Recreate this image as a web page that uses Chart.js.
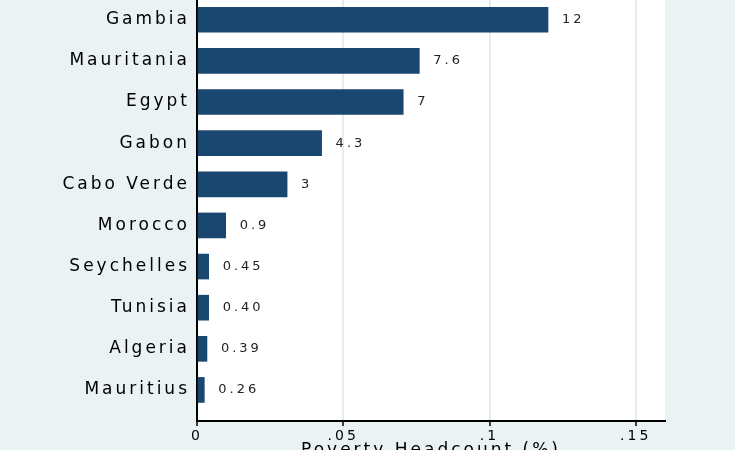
<!DOCTYPE html>
<html>
<head>
<meta charset="utf-8">
<script src="https://cdn.jsdelivr.net/npm/chart.js@4/dist/chart.umd.min.js"></script>
<style>
  html, body { margin: 0; padding: 0; background: #EAF2F3; overflow: hidden; }
  canvas { display: block; }
</style>
</head>
<body>
<canvas id="povertyChart" width="735" height="450"></canvas>
<script>
var categories = ["Gambia", "Mauritania", "Egypt", "Gabon", "Cabo Verde", "Morocco", "Seychelles", "Tunisia", "Algeria", "Mauritius"];
var headcount = [0.120, 0.076, 0.0705, 0.0426, 0.0308, 0.0098, 0.0040, 0.0040, 0.0034, 0.0025];
var valueLabels = ["12", "7.6", "7", "4.3", "3", "0.9", "0.45", "0.40", "0.39", "0.26"];
var xTicks = [0, 0.05, 0.1, 0.15];
var xTickLabels = ["0", ".05", ".1", ".15"];

var spacing = "3px";
var fontFamily = "'DejaVu Sans', sans-serif";

// stata-like wide lettering + white plot region
var stataLook = {
    id: "stataLook",
    beforeUpdate: function (chart) { chart.ctx.letterSpacing = spacing; },
    beforeLayout: function (chart) { chart.ctx.letterSpacing = spacing; },
    beforeDraw: function (chart) {
        var ctx = chart.ctx, a = chart.chartArea;
        ctx.letterSpacing = spacing;
        ctx.save();
        ctx.fillStyle = "#FFFFFF";
        ctx.fillRect(a.left, a.top, a.right - a.left, a.bottom - a.top);
        ctx.restore();
    },
    afterDatasetsDraw: function (chart) {
        var ctx = chart.ctx;
        var bars = chart.getDatasetMeta(0).data;
        ctx.save();
        ctx.font = "13px " + fontFamily;
        ctx.letterSpacing = "3px";
        ctx.fillStyle = "#222222";
        ctx.textAlign = "left";
        ctx.textBaseline = "middle";
        bars.forEach(function (bar, i) {
            ctx.fillText(valueLabels[i], bar.x + 14, bar.y);
        });
        ctx.restore();
    }
};

var ctx = document.getElementById("povertyChart").getContext("2d");

new Chart(ctx, {
    type: "bar",
    data: {
        datasets: [{
            data: headcount.map(function (v, i) { return { x: v, y: i }; }),
            backgroundColor: "#1A476F",
            borderWidth: 0,
            barThickness: 25
        }]
    },
    options: {
        indexAxis: "y",
        responsive: false,
        animation: false,
        layout: { padding: { left: 0, right: 70, top: 0, bottom: 0 } },
        plugins: {
            legend: { display: false },
            tooltip: { enabled: false }
        },
        scales: {
            x: {
                type: "linear",
                min: 0,
                max: 0.16,
                afterBuildTicks: function (scale) {
                    scale.ticks = xTicks.map(function (v) { return { value: v }; });
                },
                afterFit: function (scale) {
                    scale.height = 29;
                    scale.paddingLeft = 0;
                    scale.paddingRight = 0;
                },
                ticks: {
                    color: "#000000",
                    font: { family: fontFamily, size: 14 },
                    padding: 2,
                    maxRotation: 0,
                    callback: function (value, index) { return xTickLabels[index]; }
                },
                grid: {
                    color: function (c) { return c.tick && c.tick.value === 0 ? "rgba(0,0,0,0)" : "#E3EDF0"; },
                    lineWidth: 2,
                    drawTicks: true,
                    tickLength: 5,
                    tickColor: "#000000",
                    tickWidth: 1.5
                },
                border: { display: true, color: "#000000", width: 2 },
                title: {
                    display: true,
                    text: "Poverty Headcount (%)",
                    color: "#000000",
                    font: { family: fontFamily, size: 17 },
                    padding: { top: 0, bottom: -11 }
                }
            },
            y: {
                type: "linear",
                reverse: true,
                offset: false,
                min: -0.481,
                max: 9.755,
                afterBuildTicks: function (scale) {
                    scale.ticks = categories.map(function (c, i) { return { value: i }; });
                },
                afterFit: function (scale) {
                    scale.width = 197;
                    scale.paddingTop = 0;
                    scale.paddingBottom = 0;
                },
                ticks: {
                    color: "#000000",
                    font: { family: fontFamily, size: 17 },
                    padding: 7,
                    callback: function (value) { return categories[value]; }
                },
                grid: { display: false, drawTicks: false, offset: false },
                border: { display: true, color: "#000000", width: 2 }
            }
        }
    },
    plugins: [stataLook]
});
</script>
</body>
</html>
